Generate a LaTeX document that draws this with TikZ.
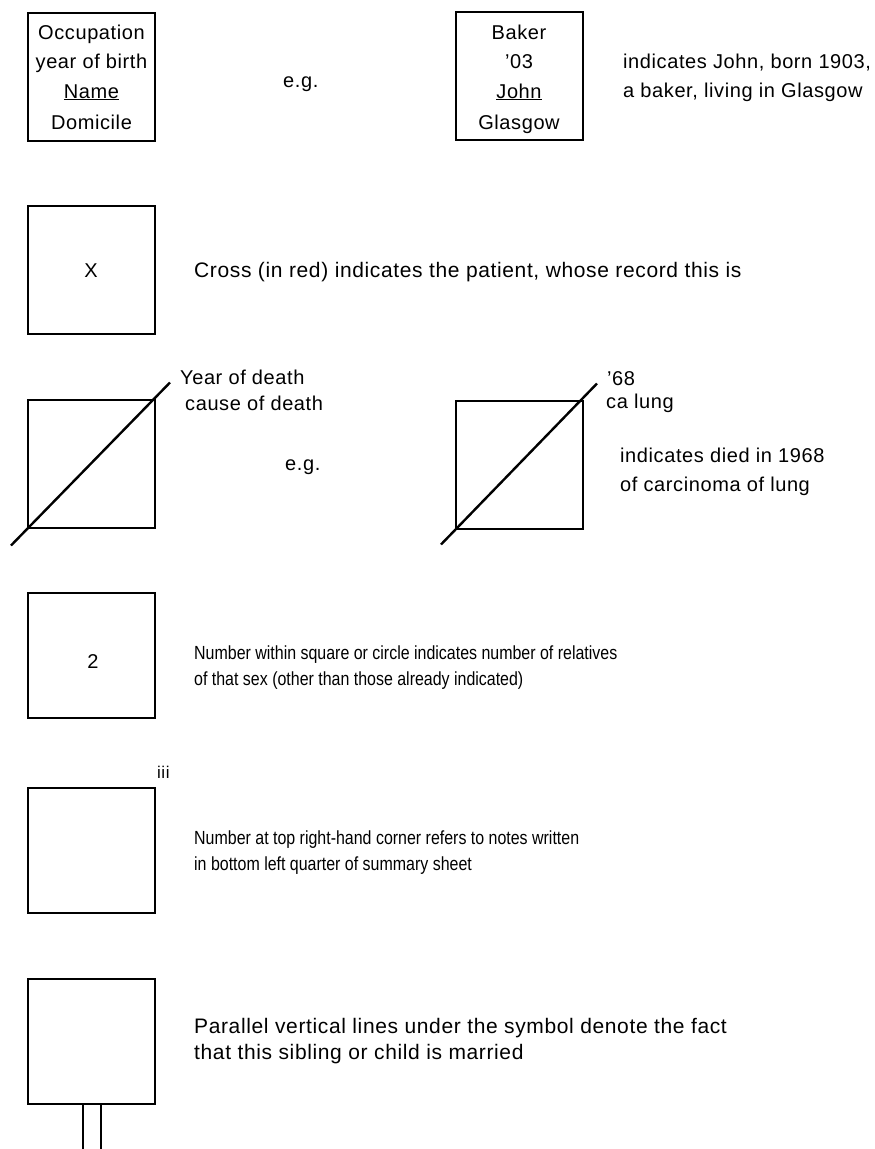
\documentclass[tikz,border=0pt]{standalone}
\usepackage{fontspec}
\setmainfont[LetterSpace=3]{Liberation Sans}
\newfontfamily\condfont[FakeStretch=0.84]{Liberation Sans}
\begin{document}
\begin{tikzpicture}[x=1pt,y=-1pt,
  sym/.style={draw, line width=2pt, inner sep=0pt, minimum width=127pt, minimum height=#1},
  sym/.default=128pt,
  diag/.style={line width=2.4pt},
  lbl/.style={anchor=base west, inner sep=0pt, font=\fontsize{20}{24}\selectfont},
  big/.style={anchor=base west, inner sep=0pt, font=\fontsize{21}{24}\selectfont},
  ctr/.style={anchor=base, inner sep=0pt, font=\fontsize{20}{24}\selectfont},
  small/.style={anchor=base west, inner sep=0pt, font=\condfont\fontsize{19}{20}\selectfont}]
\useasboundingbox (0,0) rectangle (875,1149);
% row 1
\node[sym] (b1) at (91.5,76.5) {};
\node[ctr] (b1t1) at (91.5,39) {Occupation};
\node[ctr] (b1t2) at (91.5,68) {year of birth};
\node[ctr] (b1t3) at (91.5,98) {\underline{Name}};
\node[ctr] (b1t4) at (91.5,129) {Domicile};
\node[lbl] (eg1) at (283,87) {e.g.};
\node[sym] (b2) at (519,76) {};
\node[ctr] (b2t1) at (519,39) {Baker};
\node[ctr] (b2t2) at (519,68) {’03};
\node[ctr] (b2t3) at (519,98) {\underline{John}};
\node[ctr] (b2t4) at (519,129) {Glasgow};
\node[lbl] (d1a) at (623,68) {indicates John, born 1903,};
\node[lbl] (d1b) at (623,97) {a baker, living in Glasgow};
% row 2
\node[sym] (b3) at (91,270) {};
\node[ctr] (x) at (91,277) {X};
\node[big] (d2) at (194,277) {Cross (in red) indicates the patient, whose record this is};
% row 3
\node[sym] (b4) at (91,463.5) {};
\coordinate (l4a) at (11,545.5);
\coordinate (l4b) at (170,382.5);
\draw[diag] (l4a) -- (l4b);
\node[lbl] (yd) at (180,384) {Year of death};
\node[lbl] (cd) at (185,410) {cause of death};
\node[lbl] (eg2) at (285,470) {e.g.};
\node[sym] (b5) at (519,464.5) {};
\coordinate (l5a) at (441,544.5);
\coordinate (l5b) at (597,383.5);
\draw[diag] (l5a) -- (l5b);
\node[lbl] (y68) at (607,385) {’68};
\node[lbl] (cal) at (606,408) {ca lung};
\node[lbl] (d3a) at (620,462) {indicates died in 1968};
\node[lbl] (d3b) at (620,491) {of carcinoma of lung};
% row 4
\node[sym=125pt] (b6) at (91.5,655.5) {};
\node[ctr] (two) at (93,668) {2};
\node[small] (d4a) at (194,659) {Number within square or circle indicates number of relatives};
\node[small] (d4b) at (194,685) {of that sex (other than those already indicated)};
% row 5
\node[sym=125pt] (b7) at (91.5,850.5) {};
\node[lbl, font=\fontsize{17}{20}\selectfont] (iii) at (157,778) {iii};
\node[small] (d5a) at (194,844) {Number at top right-hand corner refers to notes written};
\node[small] (d5b) at (194,870) {in bottom left quarter of summary sheet};
% row 6
\node[sym=125pt] (b8) at (91.5,1041.5) {};
\coordinate (m1) at (83,1149);
\coordinate (m2) at (101,1149);
\draw[line width=2pt] (m1 |- b8.south) -- (m1);
\draw[line width=2pt] (m2 |- b8.south) -- (m2);
\node[big] (d6a) at (194,1033) {Parallel vertical lines under the symbol denote the fact};
\node[big] (d6b) at (194,1059) {that this sibling or child is married};
\end{tikzpicture}
\end{document}
